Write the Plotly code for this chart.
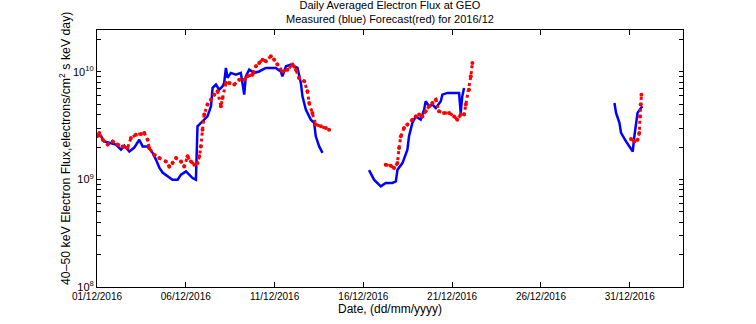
import plotly.graph_objects as go
import pandas as pd

# Day of December 2016 (fractional) and flux (electrons/cm^2 s keV day)
blue1_day = [1.0, 1.23, 1.41, 1.69, 2.07, 2.35, 2.54, 2.82, 3.10, 3.38, 3.57, 3.85, 4.13, 4.32, 4.51, 4.69, 4.97, 5.25, 5.54, 5.73, 6.01, 6.19, 6.38, 6.57, 6.66, 6.94, 7.22, 7.42, 7.51, 7.70, 7.88, 8.07, 8.16, 8.26, 8.35, 8.54, 8.82, 9.10, 9.29, 9.38, 9.57, 9.85, 10.13, 10.32, 10.51, 10.79, 11.07, 11.35, 11.44, 11.64, 11.92, 12.29, 12.48, 12.57, 12.76, 13.04, 13.23, 13.32, 13.51, 13.70]
blue1_val = [2.61e9, 2.52e9, 2.26e9, 2.19e9, 2.11e9, 1.89e9, 2.06e9, 1.82e9, 1.98e9, 2.34e9, 2.03e9, 2.03e9, 1.77e9, 1.53e9, 1.29e9, 1.16e9, 1.07e9, 0.995e9, 0.995e9, 1.11e9, 1.19e9, 1.11e9, 1.03e9, 0.995e9, 3.12e9, 3.47e9, 3.86e9, 4.79e9, 7.10e9, 7.63e9, 6.84e9, 7.35e9, 7.90e9, 1.09e10, 8.80e9, 9.80e9, 9.44e9, 9.80e9, 6.15e9, 9.10e9, 1.05e10, 9.80e9, 1.01e10, 1.05e10, 1.09e10, 1.09e10, 1.09e10, 1.01e10, 9.10e9, 1.13e10, 1.17e10, 1.09e10, 7.90e9, 5.93e9, 4.46e9, 3.60e9, 3.36e9, 2.52e9, 2.03e9, 1.77e9]

blue2_day = [16.32, 16.60, 16.98, 17.26, 17.63, 17.83, 17.92, 18.20, 18.48, 18.57, 18.76, 18.95, 19.23, 19.42, 19.51, 19.70, 19.89, 20.08, 20.36, 20.45, 20.73, 21.11, 21.39, 21.48, 21.57, 21.67]
blue2_val = [1.22e9, 0.995e9, 0.863e9, 0.927e9, 0.927e9, 0.96e9, 1.23e9, 1.42e9, 1.89e9, 2.52e9, 3.36e9, 3.86e9, 3.60e9, 4.46e9, 5.33e9, 4.79e9, 4.97e9, 4.62e9, 5.33e9, 6.15e9, 6.38e9, 6.38e9, 6.38e9, 4.16e9, 5.93e9, 7.10e9]

blue3_day = [30.14, 30.23, 30.42, 30.51, 30.79, 31.07, 31.17, 31.26, 31.35, 31.44, 31.63, 31.72]
blue3_val = [5.15e9, 4.16e9, 3.36e9, 2.71e9, 2.26e9, 1.89e9, 1.82e9, 2.52e9, 3.36e9, 4.16e9, 4.62e9, 4.79e9]

red1_day = [1.0, 1.13, 1.32, 1.60, 1.88, 2.16, 2.44, 2.72, 2.91, 3.19, 3.48, 3.66, 3.85, 3.94, 4.22, 4.51, 4.88, 5.07, 5.25, 5.45, 5.73, 5.91, 6.10, 6.29, 6.48, 6.66, 6.76, 6.85, 6.94, 7.04, 7.22, 7.42, 7.60, 7.79, 7.98, 8.07, 8.26, 8.45, 8.73, 9.01, 9.29, 9.47, 9.76, 9.95, 10.13, 10.32, 10.51, 10.79, 10.98, 11.16, 11.44, 11.73, 12.01, 12.20, 12.38, 12.67, 12.85, 12.95, 13.13, 13.32, 13.61, 13.89, 14.07]
red1_val = [2.52e9, 2.71e9, 2.34e9, 2.11e9, 2.26e9, 2.11e9, 2.03e9, 1.96e9, 2.43e9, 2.61e9, 2.65e9, 2.71e9, 2.34e9, 1.96e9, 1.70e9, 1.58e9, 1.47e9, 1.32e9, 1.42e9, 1.58e9, 1.47e9, 1.32e9, 1.64e9, 1.47e9, 1.37e9, 1.42e9, 1.64e9, 2.03e9, 2.90e9, 4.01e9, 4.97e9, 5.52e9, 6.15e9, 6.61e9, 4.79e9, 5.73e9, 7.90e9, 7.90e9, 7.63e9, 8.47e9, 8.47e9, 9.10e9, 9.44e9, 1.13e10, 1.21e10, 1.30e10, 1.26e10, 1.40e10, 1.30e10, 1.17e10, 1.01e10, 1.05e10, 1.17e10, 1.05e10, 8.80e9, 8.19e9, 6.61e9, 5.15e9, 4.16e9, 3.24e9, 3.12e9, 3.01e9, 2.90e9]

red2_day = [17.26, 17.54, 17.73, 17.92, 18.01, 18.11, 18.29, 18.48, 18.76, 18.95, 19.14, 19.32, 19.51, 19.70, 19.89, 20.08, 20.26, 20.54, 20.83, 21.11, 21.29, 21.48, 21.67, 21.77, 21.95, 22.05, 22.14]
red2_val = [1.37e9, 1.34e9, 1.28e9, 1.42e9, 1.96e9, 2.52e9, 3.01e9, 3.24e9, 3.60e9, 3.86e9, 4.01e9, 3.86e9, 4.30e9, 4.79e9, 5.15e9, 5.52e9, 4.30e9, 4.16e9, 4.16e9, 3.86e9, 3.60e9, 4.01e9, 4.01e9, 4.97e9, 6.84e9, 9.10e9, 1.21e10]

red3_day = [31.07, 31.26, 31.44, 31.54, 31.58, 31.62, 31.66]
red3_val = [2.38e9, 2.26e9, 2.34e9, 2.71e9, 3.86e9, 4.97e9, 6.15e9]

tick_dates = ["2016-12-01", "2016-12-06", "2016-12-11", "2016-12-16", "2016-12-21", "2016-12-26", "2016-12-31"]
tick_text = ["01/12/2016", "06/12/2016", "11/12/2016", "16/12/2016", "21/12/2016", "26/12/2016", "31/12/2016"]

y_decades = [8, 9, 10]
y_minor_mult = [2, 3, 4, 5, 6, 7, 8, 9]

base = pd.Timestamp("2016-12-01")


def to_dates(days):
    return [base + pd.to_timedelta(d - 1, unit="D") for d in days]


# y ticks: decade labels plus unlabelled minor ticks
y_tickvals, y_ticktext = [], []
for e in y_decades:
    y_tickvals.append(10.0 ** e)
    y_ticktext.append("10<sup>%d</sup>" % e)
    for m in y_minor_mult:
        y_tickvals.append(m * 10.0 ** e)
        y_ticktext.append("")

fig = go.Figure()
for d, v in [(blue1_day, blue1_val), (blue2_day, blue2_val), (blue3_day, blue3_val)]:
    fig.add_trace(go.Scatter(x=to_dates(d), y=v, mode="lines",
                             line=dict(color="#0000ff", width=2.5), showlegend=False))
for d, v in [(red1_day, red1_val), (red2_day, red2_val), (red3_day, red3_val)]:
    fig.add_trace(go.Scatter(x=to_dates(d), y=v, mode="lines+markers",
                             line=dict(color="#ff0000", width=3, dash="dot"),
                             marker=dict(color="#ff0000", size=4, symbol="circle", line=dict(width=0)),
                             showlegend=False))

font = "Liberation Sans, Arial, sans-serif"
fig.update_layout(
    width=756, height=324,
    margin=dict(l=97, r=73, t=30, b=37),
    paper_bgcolor="white", plot_bgcolor="white",
    font=dict(family=font, size=10, color="black"),
    annotations=[
        dict(text="Daily Averaged Electron Flux at GEO<br>Measured (blue) Forecast(red) for 2016/12",
             xref="paper", yref="paper", x=0.5, y=1, xanchor="center", yanchor="bottom",
             yshift=3, showarrow=False, font=dict(family=font, size=11)),
        dict(text="40\u201350 keV Electron Flux,electrons/cm<sup>2</sup> s keV day)",
             xref="paper", yref="paper", x=-0.0546, y=0.537, xanchor="center", yanchor="middle",
             textangle=-90, showarrow=False, font=dict(family=font, size=12.3)),
    ],
    xaxis=dict(type="date", range=["2016-12-01", "2017-01-03"],
               tickvals=tick_dates, ticktext=tick_text,
               ticks="inside", ticklen=5, tickcolor="black",
               showline=True, linecolor="black", linewidth=1, mirror="allticks",
               showgrid=False, zeroline=False,
               tickfont=dict(size=10),
               title=dict(text="Date, (dd/mm/yyyy)", font=dict(size=12), standoff=2)),
    yaxis=dict(type="log", range=[8, 10.39],
               tickvals=y_tickvals, ticktext=y_ticktext,
               ticks="inside", ticklen=4, tickcolor="black",
               showline=True, linecolor="black", linewidth=1, mirror="allticks",
               showgrid=False, zeroline=False,
               tickfont=dict(size=11)),
)

fig.write_html("out.html")
